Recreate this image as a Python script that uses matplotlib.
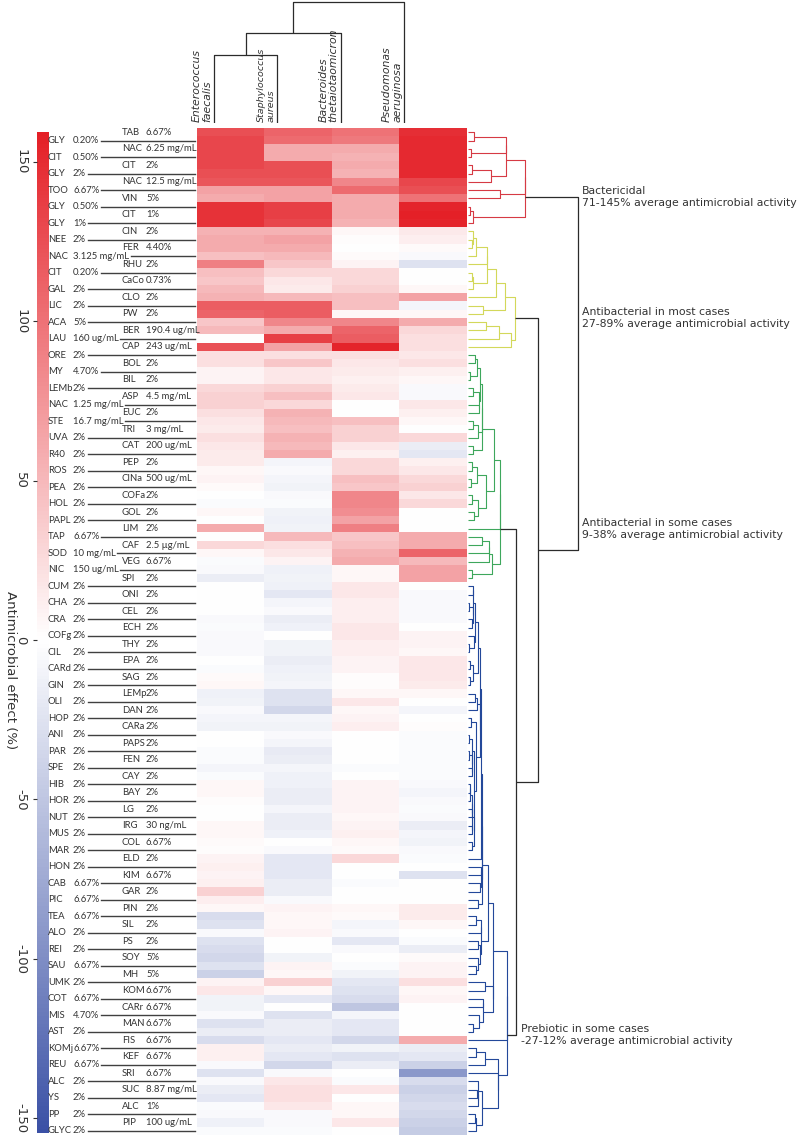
import numpy as np
import matplotlib
matplotlib.use("Agg")
import matplotlib.pyplot as plt
from matplotlib import transforms
from matplotlib.lines import Line2D
from matplotlib.colors import LinearSegmentedColormap, Normalize

plt.rcParams["axes.unicode_minus"] = False

# ---------------- data ----------------
columns = ["Enterococcus\nfaecalis", "Staphylococcus\naureus",
           "Bacteroides\nthetaiotaomicron", "Pseudomonas\naeruginosa"]

row_names = ["TAB", "GLY", "NAC", "CIT", "CIT", "GLY", "NAC", "TOO", "VIN", "GLY",
             "CIT", "GLY", "CIN", "NEE", "FER", "NAC", "RHU", "CIT", "CaCo", "GAL",
             "CLO", "LIC", "PW", "ACA", "BER", "LAU", "CAP", "ORE", "BOL", "MY",
             "BIL", "LEMb", "ASP", "NAC", "EUC", "STE", "TRI", "UVA", "CAT", "R40",
             "PEP", "ROS", "CINa", "PEA", "COFa", "HOL", "GOL", "PAPL", "LIM", "TAP",
             "CAF", "SOD", "VEG", "NIC", "SPI", "CUM", "ONI", "CHA", "CEL", "CRA",
             "ECH", "COFg", "THY", "CIL", "EPA", "CARd", "SAG", "GIN", "LEMp", "OLI",
             "DAN", "HOP", "CARa", "ANI", "PAPS", "PAR", "FEN", "SPE", "CAY", "HIB",
             "BAY", "HOR", "LG", "NUT", "IRG", "MUS", "COL", "MAR", "ELD", "HON",
             "KIM", "CAB", "GAR", "PIC", "PIN", "TEA", "SIL", "ALO", "PS", "REI",
             "SOY", "SAU", "MH", "UMK", "KOM", "COT", "CARr", "MIS", "MAN", "AST",
             "FIS", "KOMj", "KEF", "REU", "SRI", "ALC", "SUC", "YS", "ALC", "PP",
             "PIP", "GLYC"]

row_doses = ["6.67%", "0.20%", "6.25 mg/mL", "0.50%", "2%", "2%", "12.5 mg/mL", "6.67%", "5%", "0.50%",
             "1%", "1%", "2%", "2%", "4.40%", "3.125 mg/mL", "2%", "0.20%", "0.73%", "2%",
             "2%", "2%", "2%", "5%", "190.4 ug/mL", "160 ug/mL", "243 ug/mL", "2%", "2%", "4.70%",
             "2%", "2%", "4.5 mg/mL", "1.25 mg/mL", "2%", "16.7 mg/mL", "3 mg/mL", "2%", "200 ug/mL", "2%",
             "2%", "2%", "500 ug/mL", "2%", "2%", "2%", "2%", "2%", "2%", "6.67%",
             "2.5 \u00b5g/mL", "10 mg/mL", "6.67%", "150 ug/mL", "2%", "2%", "2%", "2%", "2%", "2%",
             "2%", "2%", "2%", "2%", "2%", "2%", "2%", "2%", "2%", "2%",
             "2%", "2%", "2%", "2%", "2%", "2%", "2%", "2%", "2%", "2%",
             "2%", "2%", "2%", "2%", "30 ng/mL", "2%", "6.67%", "2%", "2%", "2%",
             "6.67%", "6.67%", "2%", "6.67%", "2%", "6.67%", "2%", "2%", "2%", "2%",
             "5%", "6.67%", "5%", "2%", "6.67%", "6.67%", "6.67%", "4.70%", "6.67%", "2%",
             "6.67%", "6.67%", "6.67%", "6.67%", "6.67%", "2%", "8.87 mg/mL", "2%", "1%", "2%",
             "100 ug/mL", "2%"]

e_faecalis = [125, 130, 130, 130, 130, 125, 120, 65, 60, 145, 145, 145,
              55, 60, 60, 45, 90, 45, 40,
              50, 55, 115, 110, 40, 50, 2, 125, 22, 22, 8, 8, 28, 32, 32, 22, 17, 14, 22, 17,
              14, 14, 5, 8, 3, 0, -3, 5, 0, 60, 0, 28, 5, -3, -5, -15, 0, 0, 0, 0,
              -5, -3, -5, -5, -5, 0, -3, 3, 5, -12, -10, -5, -8, -10, 0, 0, -3, -3, -8, -3,
              5, 5, 2, 0, 0, 5, 5, 3, 2, 8, 10, 8, 10, 33, 12, 5, -30, -25, -5, -25,
              -30, -35, -25, -40, 8, 17, -10, -10, -5, -25, -15, -30, 10, 10, -5, -25, -5, -15, -20, -3, -5, -12, -3]

s_aureus = [110, 105, 60, 60, 125, 125, 120, 65, 65, 135, 135, 130,
            55, 65, 60, 50, 40, 28, 17,
            14, 50, 115, 115, 85, 60, 135, 65, 22, 40, 17, 17, 33, 45, 28, 55, 50, 45, 55, 50,
            60, -8, -5, -8, -10, -5, -3, -10, -12, -10, 50, 22, 17, 8, -12, -10, -12, -20, -8, -5,
            -15, -12, 0, -10, -10, -15, -12, -10, -8, -25, -25, -35, -8, -10, -5, -8, -18, -15, -8, -12,
            -12, -15, -15, -8, -15, -15, -12, 0, -5, -20, -20, -20, -15, -15, -5, 8, 5, 5, 8, 0,
            0, -10, 8, 5, 33, 5, -20, 0, -25, -15, -15, -20, -15, -20, -35, -5, 17, 22, 22, 17, -5, -5, -3]

b_theta = [100, 95, 60, 55, 60, 55, 85, 105, 60, 60, 60, 55,
           5, 2, 0, 3, 8, 28, 28,
           33, 45, 45, 5, 85, 110, 115, 155, 22, 17, 14, 10, 14, 17, 0, 0, 45, 33, 33, 17,
           10, 28, 28, 45, 40, 85, 85, 80, 65, 90, 40, 45, 55, 60, 5, 5, 17, 17, 12, 12,
           12, 17, 17, 12, 12, 8, 8, 2, 2, 5, 17, 5, 8, 12, 0, 0, 0, 0, -3, 0,
           8, 8, 8, 8, 5, 8, 10, 5, 3, 28, 0, 0, -3, 0, 0, 5, 3, -8, -5, -20,
           -5, 0, -3, -10, -20, -25, -30, -50, -8, -20, -20, -35, -10, -25, -15, 0, -3, 17, 0, 5, 5, 17, 0]

p_aerug = [148, 152, 152, 152, 152, 152, 130, 125, 100, 155, 158, 155,
           15, 12, 3, -5, -25, 0, 0,
           5, 65, -8, 5, 60, 28, 22, 22, 17, 22, 10, 5, -5, -5, 17, 10, 5, 0, 28, -15,
           -20, 10, 17, 28, 33, 17, 28, 0, 0, 0, 60, 60, 110, 50, 65, 65, 0, -5, -5, -5,
           -5, 0, 8, 8, 5, 17, 17, 17, 14, 5, 0, -8, 0, 2, -3, -3, -3, -3, -3, -3,
           -5, -8, -5, -3, -5, -15, -8, -10, -5, -3, 0, -25, 0, 0, 0, 14, 14, 5, 0, -3,
           -15, 3, 8, 8, 22, 5, 8, 0, 0, 0, 0, 60, -15, -20, -40, -90, -30, -40, -35, -30, -35, -40, -45]

cluster_sizes = [12, 15, 28, 67]
cluster_text = ["Bactericidal\n71-145% average antimicrobial activity",
                "Antibacterial in most cases\n27-89% average antimicrobial activity",
                "Antibacterial in some cases\n9-38% average antimicrobial activity",
                "Prebiotic in some cases\n-27-12% average antimicrobial activity"]
# column linkage (scipy style: a, b, height)
col_links = [(0, 1, 68), (4, 2, 90), (5, 3, 121)]
cbar_ticks = [-150, -100, -50, 0, 50, 100, 150]

# ---------------- layout / style ----------------
W, H = 800, 1138
fig = plt.figure(figsize=(W / 100, H / 100), dpi=100)
TXT = "#333333"


def fbox(x0, y0, x1, y1):
    return [x0 / W, 1 - y1 / H, (x1 - x0) / W, (y1 - y0) / H]


data = np.column_stack([e_faecalis, s_aureus, b_theta, p_aerug]).astype(float)
nrow = data.shape[0]
vmin, vmax = -154.7, 159.4
wpos = -vmin / (vmax - vmin)
cmap = LinearSegmentedColormap.from_list(
    "rwb", [(0, "#3a50a5"), (wpos, "#ffffff"), (1, "#e41f26")])
norm = Normalize(vmin, vmax)

HM = (197, 128.3, 467, 1135)
ax = fig.add_axes(fbox(*HM))
im = ax.imshow(data, cmap=cmap, norm=norm, aspect="auto", interpolation="nearest")
ax.set_axis_off()

# colorbar
cax = fig.add_axes(fbox(37, 132, 49, 1133))
cb = fig.colorbar(im, cax=cax)
cb.set_ticks(cbar_ticks)
cb.outline.set_visible(False)
cax.yaxis.set_ticks_position("left")
cax.tick_params(length=3, width=0.8, color=TXT, labelsize=9.5, labelcolor=TXT, pad=4)
for t in cax.get_yticklabels():
    t.set_rotation(-90)
    t.set_va("center")
fig.text(10 / W, 1 - 670 / H, "Antimicrobial effect (%)", rotation=-90,
         ha="center", va="center", fontsize=9.5, color=TXT)

# row labels
pxT = transforms.Affine2D().scale(1 / W, -1 / H).translate(0, 1) + fig.transFigure
blend = transforms.blended_transform_factory(pxT, ax.transData)
lab_kw = dict(fontsize=6.8, family="Lato", color=TXT, va="center", transform=blend)
left_dose_texts = []
for r in range(nrow):
    if r % 2 == 1:
        fig.text(48, r, row_names[r], **lab_kw)
        t = fig.text(73, r, row_doses[r], **lab_kw)
        left_dose_texts.append((r, t))
    else:
        fig.text(122, r, row_names[r], **lab_kw)
        fig.text(146, r, row_doses[r], **lab_kw)

fig.canvas.draw()
ren = fig.canvas.get_renderer()
for r, t in left_dose_texts:
    bb = t.get_window_extent(ren)
    x0 = bb.x1 + 1.5
    fig.add_artist(Line2D([x0, 195], [r, r], transform=blend, lw=1.0, color="#404040"))

# column dendrogram
cdax = fig.add_axes(fbox(182.3, 0, 435.7, 123))
cdax.set_xlim(-0.5, 3.5)
cdax.set_ylim(0, 123)
cdax.set_axis_off()
pos = {i: (float(i), 0.0) for i in range(4)}
nid = 4
for a, b, h in col_links:
    xa, ha_ = pos[a]
    xb, hb_ = pos[b]
    cdax.plot([xa, xa, xb, xb], [ha_, h, h, hb_], color="#2b2b2b", lw=0.9,
              solid_capstyle="butt")
    pos[nid] = ((xa + xb) / 2, h)
    nid += 1
for i, name in enumerate(columns):
    cdax.text(i - 0.03, 1, name, rotation=90, ha="right", va="bottom",
              multialignment="left", fontsize=6.8 if i == 1 else 7.8,
              style="italic", color=TXT, linespacing=1.05)


# row dendrogram (order-preserving average linkage)
def build_tree(X, idx):
    nodes = [{"y": float(i), "h": 0.0, "m": [i], "kids": None} for i in idx]
    while len(nodes) > 1:
        best_k, best_d = 0, np.inf
        for k in range(len(nodes) - 1):
            A = X[nodes[k]["m"]]
            B = X[nodes[k + 1]["m"]]
            d = np.mean(np.linalg.norm(A[:, None, :] - B[None, :, :], axis=2))
            if d < best_d:
                best_k, best_d = k, d
        a, b = nodes[best_k], nodes[best_k + 1]
        nodes[best_k:best_k + 2] = [{"y": (a["y"] + b["y"]) / 2,
                                     "h": max(best_d, a["h"], b["h"]),
                                     "m": a["m"] + b["m"], "kids": (a, b)}]
    return nodes[0]


def scale_tree(node, f):
    node["h"] *= f
    if node["kids"]:
        for k in node["kids"]:
            scale_tree(k, f)


def draw_tree(axd, node, color):
    if not node["kids"]:
        return
    a, b = node["kids"]
    draw_tree(axd, a, color)
    draw_tree(axd, b, color)
    axd.plot([a["h"], node["h"], node["h"], b["h"]], [a["y"], a["y"], b["y"], b["y"]],
             color=color, lw=0.8, solid_capstyle="butt")


rdax = fig.add_axes(fbox(468, 128.3, 800, 1135))
rdax.set_xlim(0, 332)
rdax.set_ylim(nrow - 0.5, -0.5)
rdax.set_axis_off()

clu_colors = ["#d63a44", "#d3d85a", "#3ea75c", "#23489a"]
clu_width = [57, 47, 32, 39]
roots = []
start = 0
for size, col, wd in zip(cluster_sizes, clu_colors, clu_width):
    idx = list(range(start, start + size))
    root = build_tree(data, idx)
    scale_tree(root, wd / root["h"])
    draw_tree(rdax, root, col)
    roots.append(root)
    start += size

# top-level links between clusters
top_links = [(2, 3, 48), (1, 4, 70), (0, 5, 110)]
tnodes = {i: (r["y"], r["h"]) for i, r in enumerate(roots)}
k = 4
for a, b, h in top_links:
    ya, ha_ = tnodes[a]
    yb, hb_ = tnodes[b]
    rdax.plot([ha_, h, h, hb_], [ya, ya, yb, yb], color="#2b2b2b", lw=0.9,
              solid_capstyle="butt")
    tnodes[k] = ((ya + yb) / 2, h)
    k += 1

text_x = [114, 114, 114, 53]
for r, txt, tx in zip(roots, cluster_text, text_x):
    rdax.text(tx, r["y"], txt, ha="left", va="center", fontsize=7.8, color=TXT,
              linespacing=1.25)

fig.savefig("out.png", dpi=100)
